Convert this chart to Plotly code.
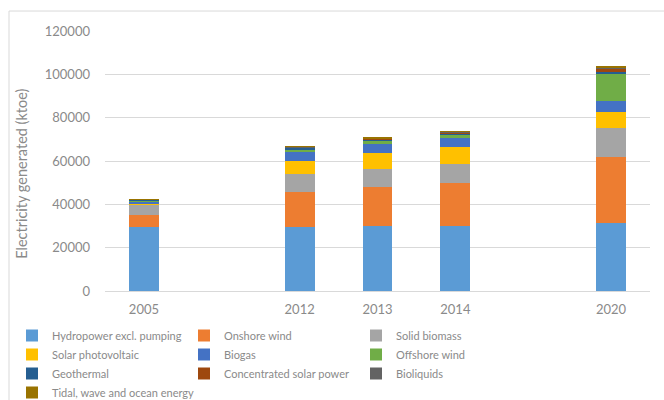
import plotly.graph_objects as go

years = ["2005", " ", "2012", "2013", "2014", "  ", "2020"]
bar_years = ["2005", "2012", "2013", "2014", "2020"]

hydropower = [29400, 29500, 29800, 30100, 31500]
onshore_wind = [5500, 16200, 18000, 19900, 30300]
solid_biomass = [5200, 8400, 8500, 8600, 13400]
solar_pv = [100, 5900, 7400, 7700, 7500]
biogas = [1200, 4300, 4300, 4400, 4800]
offshore_wind = [200, 1200, 1400, 1600, 12800]
geothermal = [450, 500, 500, 500, 900]
csp = [0, 300, 400, 500, 1600]
bioliquids = [100, 300, 300, 400, 500]
tidal = [40, 40, 40, 50, 600]

series = [
    ("Hydropower excl. pumping", hydropower, "#5B9BD5"),
    ("Onshore wind", onshore_wind, "#ED7D31"),
    ("Solid biomass", solid_biomass, "#A5A5A5"),
    ("Solar photovoltaic", solar_pv, "#FFC000"),
    ("Biogas", biogas, "#4472C4"),
    ("Offshore wind", offshore_wind, "#70AD47"),
    ("Geothermal", geothermal, "#255E91"),
    ("Concentrated solar power", csp, "#9E480E"),
    ("Bioliquids", bioliquids, "#636363"),
    ("Tidal, wave and ocean energy", tidal, "#997300"),
]

FONT = "Lato"
GREY = "#8a8a8a"

fig = go.Figure()
for name, vals, col in series:
    fig.add_trace(go.Bar(
        name=name, x=bar_years, y=vals,
        marker=dict(color=col, line=dict(width=0)),
    ))

T, B, L, R = 31, 108.7, 105, 14
PH = 400 - T - B
PW = 664 - L - R

fig.update_layout(
    barmode="stack",
    bargap=0.615,
    width=664, height=400,
    margin=dict(l=L, r=R, t=T, b=B, autoexpand=False),
    paper_bgcolor="white", plot_bgcolor="white",
    font=dict(family=FONT, color=GREY, size=12),
    showlegend=True,
    legend=dict(
        orientation="h", traceorder="normal",
        xref="container", yref="container",
        x=12/664, y=1 - 321/400, xanchor="left", yanchor="top",
        entrywidth=127, entrywidthmode="pixels",
        itemwidth=30,
        font=dict(family=FONT, size=11, color=GREY),
        bgcolor="rgba(0,0,0,0)",
    ),
    xaxis=dict(
        type="category", categoryorder="array", categoryarray=years,
        range=[-0.5, 6.5], automargin=False,
        showgrid=False, showline=True, linecolor="#d9d9d9", linewidth=1,
        ticks="", tickfont=dict(size=13, color=GREY),
        ticklabelstandoff=6,
        zeroline=False,
    ),
    yaxis=dict(
        range=[0, 120000], dtick=20000, tickformat="d", automargin=False,
        showgrid=True, gridcolor="#d9d9d9", gridwidth=1,
        showline=False, zeroline=False, ticks="",
        tickfont=dict(size=13, color=GREY),
        ticklabelstandoff=14,
    ),
    annotations=[
        dict(text="Electricity generated (ktoe)", textangle=-90,
             xref="paper", yref="paper",
             x=(22 - L) / PW, y=(400 - 174 - B) / PH,
             xanchor="center", yanchor="middle", showarrow=False,
             font=dict(family=FONT, size=14.5, color=GREY)),
    ],
    shapes=[
        dict(type="line", xref="paper", yref="paper", x0=(9 - L) / PW, x1=1.2,
             y0=(400 - 11 - B) / PH, y1=(400 - 11 - B) / PH,
             line=dict(color="#d9d9d9", width=1)),
        dict(type="line", xref="paper", yref="paper", x0=(9 - L) / PW, x1=(9 - L) / PW,
             y0=(400 - 11 - B) / PH, y1=-0.5,
             line=dict(color="#d9d9d9", width=1)),
    ],
)

fig.write_html("out.html", config={"displayModeBar": False},
               post_script="document.body.style.margin='0';")
